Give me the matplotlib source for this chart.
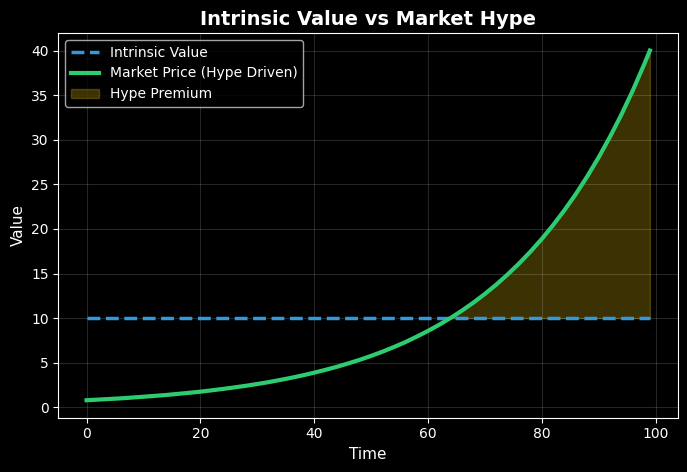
import numpy as np
import matplotlib.pyplot as plt

# values
time = [0, 2, 4, 6, 8, 10, 12, 14, 16, 18, 20, 22, 24, 26, 28, 30, 32, 34, 36, 38,
        40, 42, 44, 46, 48, 50, 52, 54, 56, 58, 60, 62, 64, 66, 68, 70, 72, 74, 76, 78,
        80, 82, 84, 86, 88, 90, 92, 94, 96, 98, 99]
market_price = [0.80, 0.87, 0.94, 1.01, 1.10, 1.19, 1.29, 1.39, 1.51, 1.63,
                1.76, 1.91, 2.07, 2.24, 2.42, 2.62, 2.83, 3.07, 3.32, 3.59,
                3.89, 4.21, 4.55, 4.93, 5.33, 5.77, 6.24, 6.76, 7.31, 7.92,
                8.57, 9.27, 10.03, 10.86, 11.75, 12.72, 13.76, 14.90, 16.12, 17.45,
                18.88, 20.44, 22.12, 23.93, 25.90, 28.03, 30.34, 32.83, 35.53, 38.46,
                40.0]
intrinsic = [10.0] * len(time)

plt.style.use('dark_background')
fig, ax = plt.subplots(figsize=(6.87, 4.72), dpi=100)
fig.patch.set_facecolor('black')
ax.set_facecolor('black')

ax.plot(time, intrinsic, color='#3498db', linestyle='--', linewidth=2.5, label='Intrinsic Value')
ax.plot(time, market_price, color='#2ecc71', linewidth=3, label='Market Price (Hype Driven)')

t = np.array(time)
m = np.array(market_price)
iv = np.array(intrinsic)
ax.fill_between(t, iv, m, where=m > iv, interpolate=True, color='#f1c40f', alpha=0.25,
                label='Hype Premium')

ax.set_title('Intrinsic Value vs Market Hype', fontsize=14, fontweight='bold')
ax.set_xlabel('Time', fontsize=11)
ax.set_ylabel('Value', fontsize=11)
ax.grid(True, alpha=0.15)
ax.legend(loc='upper left', fontsize=10)

fig.subplots_adjust(left=0.085, right=0.987, top=0.93, bottom=0.115)
fig.savefig('out.png', dpi=100, facecolor='black')
